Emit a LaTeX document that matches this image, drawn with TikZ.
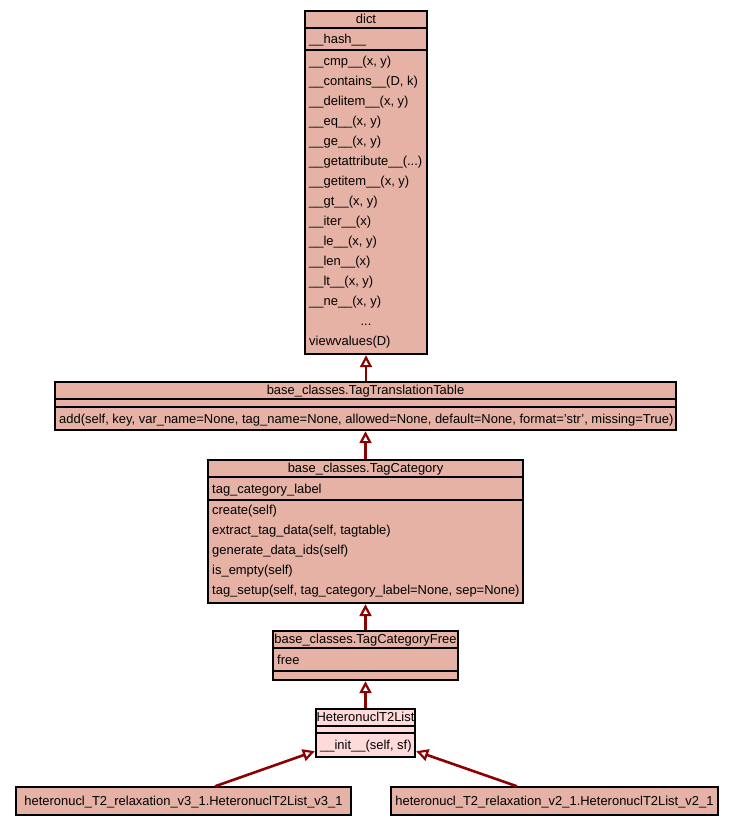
\documentclass[tikz,border=0pt]{standalone}
\usepackage{fontspec}
\setmainfont{Liberation Sans}
\usetikzlibrary{arrows.meta}
\definecolor{clsfill}{RGB}{229,178,165}
\definecolor{leaffill}{RGB}{255,218,218}
\definecolor{edgecol}{RGB}{139,0,0}
\tikzset{
  cls/.style={draw=black, fill=clsfill, line width=1.4pt, rectangle, inner sep=0pt},
  leaf/.style={cls, fill=leaffill},
  sepline/.style={draw=black, line width=1.4pt},
  txt/.style={font=\fontsize{12.95}{14}\selectfont, inner sep=0pt, text height=9.3pt, text depth=0pt, anchor=west},
  ttl/.style={txt, anchor=center},
  inh/.style={draw=edgecol, line width=2.6pt, -{Triangle[open, fill=white, length=12pt, width=12pt, line width=2.2pt]}, shorten >=0.5pt}
}
\begin{document}
\begin{tikzpicture}[x=1pt,y=-1pt]
\useasboundingbox[fill=white] (0,0) rectangle (733,825);

% dict
\node[cls, minimum width=122pt, minimum height=343pt] (dict) at (366,182.5) {};
\draw[sepline] (dict.west |- 0,28) -- (dict.east |- 0,28);
\draw[sepline] (dict.west |- 0,50) -- (dict.east |- 0,50);
\node[ttl] (dictt) at (366,19) {dict};
\node[txt] (dicta) at (309,39) {\_\_hash\_\_};
\node[txt] (dm1) at (309,61) {\_\_cmp\_\_(x, y)};
\node[txt] (dm2) at (309,81) {\_\_contains\_\_(D, k)};
\node[txt] (dm3) at (309,101) {\_\_delitem\_\_(x, y)};
\node[txt] (dm4) at (309,121) {\_\_eq\_\_(x, y)};
\node[txt] (dm5) at (309,141) {\_\_ge\_\_(x, y)};
\node[txt] (dm6) at (309,161) {\_\_getattribute\_\_(...)};
\node[txt] (dm7) at (309,181) {\_\_getitem\_\_(x, y)};
\node[txt] (dm8) at (309,201) {\_\_gt\_\_(x, y)};
\node[txt] (dm9) at (309,221) {\_\_iter\_\_(x)};
\node[txt] (dm10) at (309,241) {\_\_le\_\_(x, y)};
\node[txt] (dm11) at (309,261) {\_\_len\_\_(x)};
\node[txt] (dm12) at (309,281) {\_\_lt\_\_(x, y)};
\node[txt] (dm13) at (309,301) {\_\_ne\_\_(x, y)};
\node[ttl] (dm14) at (366,321) {...};
\node[txt] (dm15) at (309,341) {viewvalues(D)};

% TagTranslationTable
\node[cls, minimum width=621pt, minimum height=48pt] (ttt) at (365.5,406) {};
\draw[sepline] (ttt.west |- 0,399) -- (ttt.east |- 0,399);
\draw[sepline] (ttt.west |- 0,407) -- (ttt.east |- 0,407);
\node[ttl] (tttt) at (365.5,390) {base\_classes.TagTranslationTable};
\node[txt] (tttm) at (59,419) {add(self, key, var\_name=None, tag\_name=None, allowed=None, default=None, format='str', missing=True)};

% TagCategory
\node[cls, minimum width=315pt, minimum height=143pt] (tc) at (365.5,531.5) {};
\draw[sepline] (tc.west |- 0,477) -- (tc.east |- 0,477);
\draw[sepline] (tc.west |- 0,500) -- (tc.east |- 0,500);
\node[ttl] (tct) at (365.5,468) {base\_classes.TagCategory};
\node[txt] (tca) at (212,489) {tag\_category\_label};
\node[txt] (tcm1) at (212,510) {create(self)};
\node[txt] (tcm2) at (212,530) {extract\_tag\_data(self, tagtable)};
\node[txt] (tcm3) at (212,550) {generate\_data\_ids(self)};
\node[txt] (tcm4) at (212,570) {is\_empty(self)};
\node[txt] (tcm5) at (212,590) {tag\_setup(self, tag\_category\_label=None, sep=None)};

% TagCategoryFree
\node[cls, minimum width=185pt, minimum height=49pt] (tcf) at (365.5,655.5) {};
\draw[sepline] (tcf.west |- 0,648) -- (tcf.east |- 0,648);
\draw[sepline] (tcf.west |- 0,671) -- (tcf.east |- 0,671);
\node[ttl] (tcft) at (365.5,639) {base\_classes.TagCategoryFree};
\node[txt] (tcfa) at (277,660) {free};

% HeteronuclT2List
\node[leaf, minimum width=99pt, minimum height=48pt] (hl) at (365.5,733) {};
\draw[sepline] (hl.west |- 0,726) -- (hl.east |- 0,726);
\draw[sepline] (hl.west |- 0,733) -- (hl.east |- 0,733);
\node[ttl] (hlt) at (365.5,717) {HeteronuclT2List};
\node[txt] (hlm) at (320,745) {\_\_init\_\_(self, sf)};

% bottom classes
\node[cls, minimum width=335pt, minimum height=28pt] (b1) at (183.5,801) {};
\node[ttl] (b1t) at (183.5,801) {heteronucl\_T2\_relaxation\_v3\_1.HeteronuclT2List\_v3\_1};
\node[cls, minimum width=327pt, minimum height=28pt] (b2) at (554.5,801) {};
\node[ttl] (b2t) at (554.5,801) {heteronucl\_T2\_relaxation\_v2\_1.HeteronuclT2List\_v2\_1};

% inheritance edges
\draw[inh] (ttt.north -| dict.south) -- (dict.south);
\draw[inh] (tc.north) -- (ttt.south -| tc.north);
\draw[inh] (tcf.north) -- (tc.south);
\draw[inh] (hl.north) -- (tcf.south);
\draw[inh] ([xshift=31.5pt]b1.north) -- ([yshift=-18pt]hl.west);
\draw[inh] ([xshift=-37.5pt]b2.north) -- ([yshift=-18pt]hl.east);
\end{tikzpicture}
\end{document}
